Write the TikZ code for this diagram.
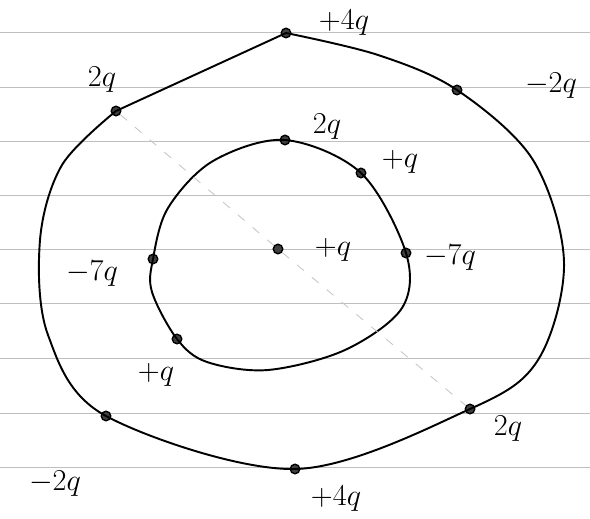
\documentclass[tikz,border=0pt]{standalone}
\usepackage{amsmath}
\begin{document}
\begin{tikzpicture}[x=0.02cm, y=-0.02cm,
  charge/.style={circle, draw, fill=black!75, line width=0.8pt, inner sep=0pt, minimum size=0.19cm},
  qlabel/.style={font=\LARGE},
  ring/.style={line width=1.1pt}]

\useasboundingbox (0,0) rectangle (590,519);

\foreach \y in {32, 87, 141, 195, 249, 303, 358, 413, 467}
  \draw[gray!50, line width=0.4pt] (0,\y) -- (590,\y);

\node[charge] (o4a) at (286, 33) {};
\node[charge] (o2n) at (457, 90) {};
\node[charge] (o2b) at (470, 409) {};
\node[charge] (o4b) at (295, 469) {};
\node[charge] (o2m) at (106, 416) {};
\node[charge] (o2a) at (116, 111) {};

\node[charge] (i2) at (285, 140) {};
\node[charge] (i1a) at (361, 173) {};
\node[charge] (i7a) at (406, 253) {};
\node[charge] (i1b) at (177, 339) {};
\node[charge] (i7b) at (153, 259) {};

\node[charge] (cq) at (278, 249) {};

\draw[ring] plot[smooth, tension=0.55] coordinates {
  (o4a.center) (378,55) (o2n.center) (533,160) (564,262) (538,360)
  (o2b.center) (o4b.center) (o2m.center)
  (48,335) (40,240) (62,165) (o2a.center)} -- (o4a.center);

\draw[ring] plot[smooth cycle, tension=0.55] coordinates {
  (i2.center) (i1a.center) (i7a.center) (402,308)
  (345,350) (268,370) (207,362) (i1b.center) (152,292)
  (i7b.center) (168,208) (213,161)};

\draw[gray!45, line width=0.5pt, dash pattern=on 5pt off 6pt] (o2a) -- (cq) -- (o2b);

\node[qlabel] (lo4a) at (344, 23) {$+4q$};
\node[qlabel] (lo2n) at (551, 86) {$-2q$};
\node[qlabel] (lo2a) at (102, 80) {$2q$};
\node[qlabel] (li2) at (327, 127) {$2q$};
\node[qlabel] (li1a) at (400, 162) {$+q$};
\node[qlabel] (li7a) at (450, 258) {$-7q$};
\node[qlabel] (lcq) at (333, 250) {$+q$};
\node[qlabel] (li7b) at (92, 274) {$-7q$};
\node[qlabel] (li1b) at (156, 375) {$+q$};
\node[qlabel] (lo2b) at (508, 429) {$2q$};
\node[qlabel] (lo4b) at (336, 499) {$+4q$};
\node[qlabel] (lo2m) at (55, 484) {$-2q$};

\end{tikzpicture}
\end{document}
